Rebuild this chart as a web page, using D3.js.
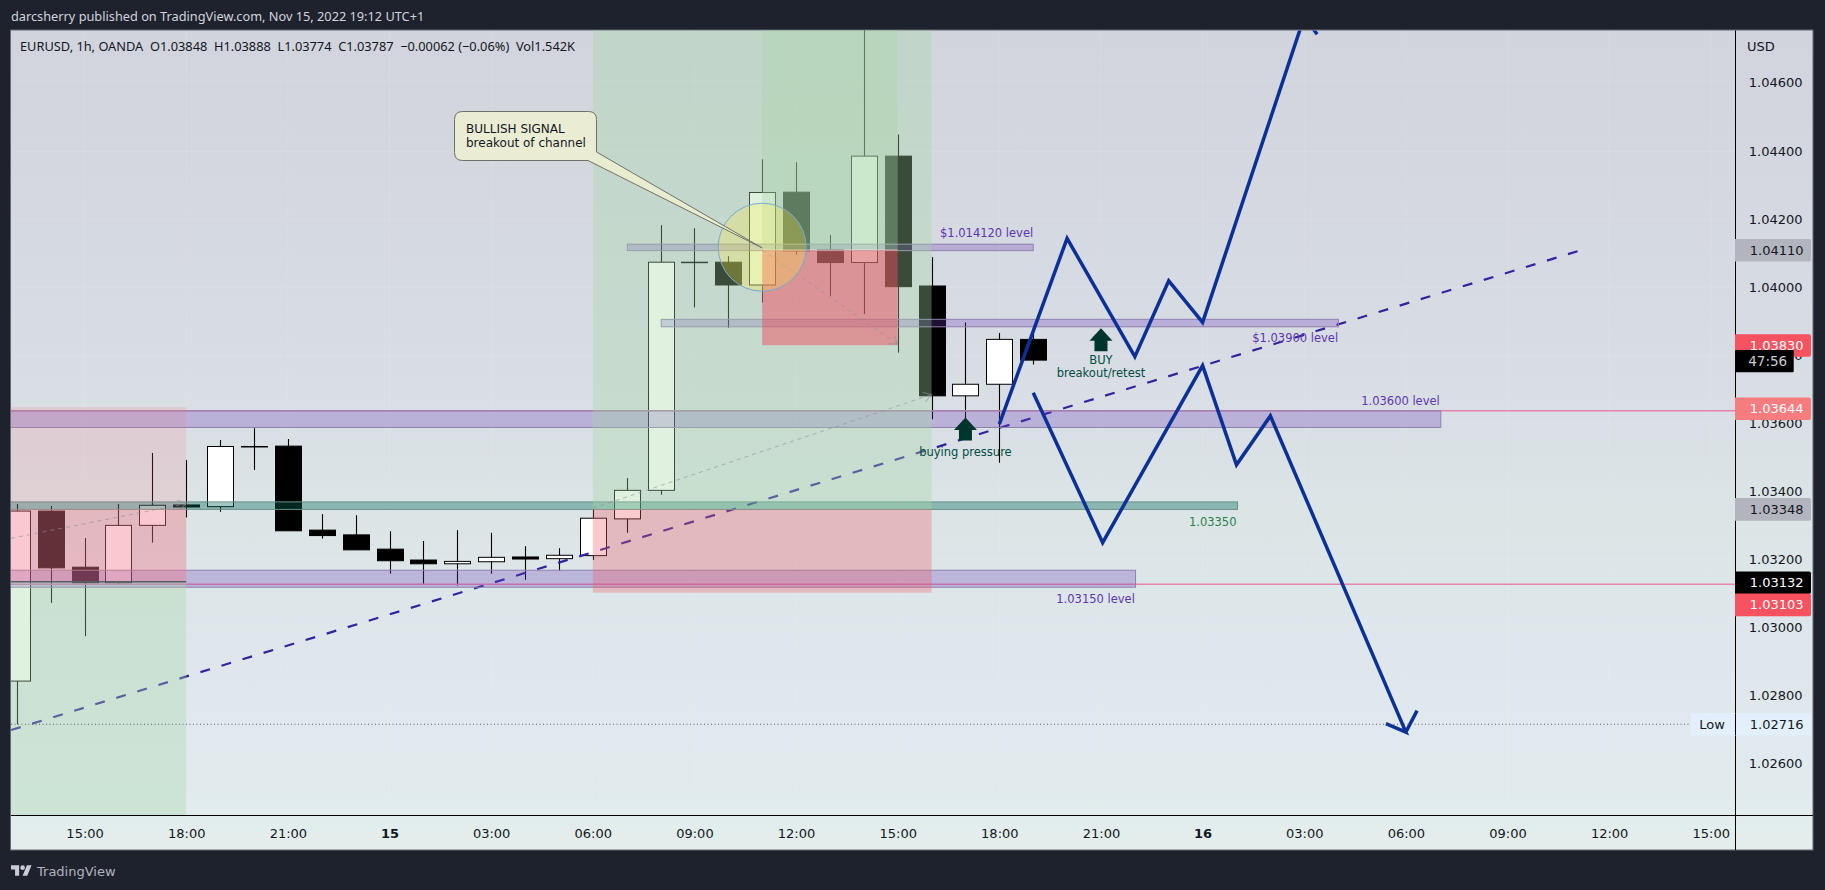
<!DOCTYPE html>
<html><head><meta charset="utf-8">
<script src="https://cdn.jsdelivr.net/npm/d3@7"></script>
<style>
html,body{margin:0;padding:0;background:#1e222d;overflow:hidden}
svg{display:block}
text{font-family:"DejaVu Sans",sans-serif}
</style></head><body><svg id="c" width="1825" height="890"></svg>
<script>
// ---- candle data (x = hours since Nov 14 00:00)
const hours =[13,14,15,16,17,18,19,20,21,22,23,24,25,26,27,28,29,30,31,32,33,34,35,36,37,38,39,40,41,42,43];
const opens =[1.02843,1.03343,1.03178,1.03132,1.03301,1.03361,1.03356,1.03533,1.03534,1.03287,1.03273,1.03231,1.03199,1.03188,1.03194,1.03208,1.03203,1.03212,1.0332,1.03404,1.04075,1.04075,1.04008,1.04281,1.04112,1.04074,1.04387,1.04005,1.03682,1.03716,1.03848];
const highs =[1.03364,1.03358,1.03264,1.03364,1.03514,1.03493,1.03552,1.03587,1.03555,1.03334,1.03331,1.03284,1.03255,1.03287,1.03279,1.0324,1.03234,1.03349,1.0344,1.04184,1.04175,1.04093,1.04378,1.04369,1.04155,1.048,1.04449,1.0409,1.03898,1.03867,1.03888];
const lows  =[1.02716,1.03073,1.02975,1.03128,1.0325,1.03324,1.03341,1.03464,1.03285,1.03262,1.03229,1.03159,1.03129,1.03124,1.03159,1.03141,1.03168,1.03199,1.03279,1.03391,1.03942,1.03882,1.03956,1.04097,1.03976,1.03923,1.03809,1.03613,1.0361,1.03485,1.03774];
const closes=[1.03343,1.03176,1.03132,1.03301,1.0336,1.03355,1.03533,1.03533,1.03285,1.03271,1.03229,1.03197,1.03188,1.03195,1.03207,1.03202,1.03213,1.03322,1.03404,1.04075,1.04075,1.04008,1.0428,1.04108,1.04074,1.04387,1.04003,1.03682,1.03716,1.03848,1.03787];

// ---- axes
const timeTickHours=[15,18,21,24,27,30,33,36,39,42,45,48,51,54,57,60,63];
const timeTickLabels=["15:00","18:00","21:00","15","03:00","06:00","09:00","12:00","15:00","18:00","21:00","16","03:00","06:00","09:00","12:00","15:00"];
const priceTicks=[1.026,1.028,1.03,1.032,1.034,1.036,1.038,1.04,1.042,1.044,1.046];

// ---- drawings: [h0,h1,pTop,pBottom]
const purpleBands=[[12,55.03,1.03638,1.03589],[12,46.02,1.03169,1.03119],[31.02,43,1.04128,1.04109],[32.02,52.01,1.03907,1.03885]];
const greenBands=[[12,49.03,1.0337,1.03348]];
const GREEN="rgba(165,214,167,.35)",SOFTRED="243,120,135",MIDRED="239,96,106",RED="240,74,92";
const posRects=[
 [12,18,1.03649,1.03135,`rgba(${SOFTRED},.18)`],
 [12,18,1.03349,1.03135,`rgba(${SOFTRED},.27)`],
 [12,18,1.03135,1.02,GREEN],
 [30,40,1.06,1.03684,GREEN],
 [30,40,1.03684,1.03348,GREEN],
 [30,40,1.03348,1.03103,`rgba(${MIDRED},.33)`],
 [35,39,1.06,1.04111,GREEN],
 [35,39,1.04111,1.03831,`rgba(${RED},.48)`]];
const hLines=[1.03638,1.03128];
const trendHours=[12.83,59.09], trendPrices=[1.02699,1.04108];
const upHours=[42,44,46,47,48,51,51.38], upPrices=[1.03599,1.04145,1.03797,1.0402,1.03898,1.04787,1.04737];
const downHours=[43,45.05,48,49,50,54,53.41,54,54.33], downPrices=[1.03691,1.0325,1.03771,1.03479,1.03623,1.02693,1.02718,1.02693,1.02756];
const guideLines=[[12.83,1.03263,18,1.03365],[30,1.03351,40,1.03686],[35,1.04111,39,1.03834]];
const levelLabels=[["1.03600 level",55,1.03668,"#5e35b1"],["1.03150 level",46,1.03084,"#5e35b1"],["1.03350",49,1.03312,"#2e7d4f"],["$1.014120 level",43,1.04161,"#5e35b1"],["$1.03900 level",52,1.03851,"#5e35b1"]];
const arrowHours=[41,45], arrowPrices=[1.03618,1.03881];
const noteTexts=["buying pressure","BUY","breakout/retest"], noteHours=[41,45,45], notePrices=[1.03516,1.03788,1.0375];
const priceLabels=[["1.04110",1.04110,"#b2b5be","#131722"],["1.03830",1.03830,"#f7525f","#fff"],["1.03644",1.03644,"#f77c80","#fff"],["1.03348",1.03348,"#b2b5be","#131722"],["1.03132",1.03132,"#000","#fff"],["1.03103",1.03067,"#f7525f","#fff"],["1.02716",1.02716,"#e3effd","#131722"]];
const lowPrice=1.02716;

const x=d3.scaleLinear().domain([15,63]).range([84.6,1710.8]);
const y=d3.scaleLinear().domain([1.026,1.044,1.046]).range([763.7,151.7,82]);
const L=11,R=1735,T=30.5,B=815,OR=1813,OB=850;

const svg=d3.select("#c");
const defs=svg.append("defs");
const g=defs.append("linearGradient").attr("id","bg").attr("x1",0).attr("x2",0).attr("y1",0).attr("y2",1);
[[0,"#d1d4dc"],[.3,"#d6dae2"],[.47,"#d9dfe5"],[.6,"#dbe5e6"],[.78,"#dfe7ed"],[.93,"#e1ebee"],[1,"#e3eeec"]].forEach(s=>g.append("stop").attr("offset",s[0]).attr("stop-color",s[1]));
defs.append("clipPath").attr("id","pane").append("rect").attr("x",L).attr("y",T).attr("width",R-L).attr("height",B-T);
defs.append("marker").attr("id","chev").attr("viewBox","-10 -6 11 12").attr("refX",0).attr("refY",0).attr("markerWidth",11).attr("markerHeight",12).attr("markerUnits","userSpaceOnUse").attr("orient","auto")
  .append("path").attr("d","M-8,-5L0,0L-8,5").attr("fill","none").attr("stroke","rgba(140,143,154,.65)");

svg.append("rect").attr("width",1825).attr("height",890).attr("fill","#1e222d");
svg.append("rect").attr("x",L-.5).attr("y",T-.5).attr("width",OR-L+.5).attr("height",OB-T+.5).attr("fill","url(#bg)").attr("stroke","#666a75");

// header
svg.append("text").attr("x",11).attr("y",21).attr("font-size",12.75).style("font-family","'Noto Sans'").attr("fill","#d1d4dc").text("darcsherry published on TradingView.com, Nov 15, 2022 19:12 UTC+1");

const pane=svg.append("g").attr("clip-path","url(#pane)");
// grid
pane.append("g").selectAll("line").data(timeTickHours).join("line").attr("x1",d=>x(d)).attr("x2",d=>x(d)).attr("y1",T).attr("y2",B).attr("stroke","rgba(255,255,255,.1)");
pane.append("g").selectAll("line").data(priceTicks).join("line").attr("x1",L).attr("x2",R).attr("y1",d=>y(d)).attr("y2",d=>y(d)).attr("stroke","rgba(255,255,255,.1)");

// candles
const bw=27;
const cg=pane.append("g");
hours.forEach((h,i)=>{
  const cx=Math.round(x(h))+.5,up=closes[i]>=opens[i];
  cg.append("line").attr("x1",cx).attr("x2",cx).attr("y1",y(highs[i])).attr("y2",y(lows[i])).attr("stroke","#000").attr("stroke-width",1.1);
  const t=y(Math.max(opens[i],closes[i])),b=y(Math.min(opens[i],closes[i]));
  cg.append("rect").attr("x",cx-bw/2+.5).attr("y",t).attr("width",bw-1).attr("height",Math.max(b-t,.5))
    .attr("fill",up?"#fff":"#000").attr("stroke","#000").attr("stroke-width",1);
});
// trendline
pane.append("path").attr("d",d3.line().x(d=>x(d)).y((d,i)=>y(trendPrices[i]))(trendHours)).attr("fill","none").attr("stroke","#3423a0").attr("stroke-width",2.2).attr("stroke-dasharray","10,12");
// pink lines
pane.append("g").selectAll("line").data(hLines).join("line").attr("x1",L).attr("x2",R).attr("y1",d=>y(d)).attr("y2",d=>y(d)).attr("stroke","#e585ad").attr("stroke-width",1.6);
// bands
function band(a,fill,stroke){pane.append("g").selectAll("rect").data(a).join("rect").attr("x",d=>x(d[0])).attr("width",d=>x(d[1])-x(d[0])).attr("y",d=>y(d[2])).attr("height",d=>y(d[3])-y(d[2])).attr("fill",fill).attr("stroke",stroke);}
band(purpleBands,"rgba(103,58,183,.28)","#8f80ad");
band(greenBands,"rgba(0,105,92,.37)","#6c9088");
// position rects
pane.append("g").selectAll("rect").data(posRects).join("rect").attr("x",d=>x(d[0])).attr("width",d=>x(d[1])-x(d[0])).attr("y",d=>y(d[2])).attr("height",d=>y(d[3])-y(d[2])).attr("fill",d=>d[4]);
pane.append("line").attr("x1",L).attr("x2",x(18)).attr("y1",y(1.03135)).attr("y2",y(1.03135)).attr("stroke","#5b5b60").attr("stroke-width",1.6);
pane.append("line").attr("x1",x(35)).attr("x2",x(39)).attr("y1",y(1.04111)).attr("y2",y(1.04111)).attr("stroke","rgba(255,255,255,.55)");
pane.append("g").selectAll("line").data(guideLines).join("line").attr("x1",d=>x(d[0])).attr("y1",d=>y(d[1])).attr("x2",d=>x(d[2])).attr("y2",d=>y(d[3])).attr("stroke","rgba(140,143,154,.6)").attr("stroke-dasharray","4,4").attr("marker-end","url(#chev)");
// circle
pane.append("circle").attr("cx",x(35)).attr("cy",y(1.04119)).attr("r",44).attr("fill","rgba(255,235,59,.27)").attr("stroke","#7aa9cf").attr("stroke-width",1);
// callout
const bx0=454.5,bx1=596.5,by0=111.5,by1=160.5,r=8,tx=x(35),ty=y(1.04117);
pane.append("path").attr("d",`M${bx0+r},${by0}H${bx1-r}Q${bx1},${by0} ${bx1},${by0+r}V152L${tx},${ty}L588,${by1}H${bx0+r}Q${bx0},${by1} ${bx0},${by1-r}V${by0+r}Q${bx0},${by0} ${bx0+r},${by0}Z`).attr("fill","rgba(240,240,210,.82)").attr("stroke","#6f7168").attr("stroke-width",1);
pane.append("text").attr("x",466).attr("y",133).attr("font-size",12).attr("fill","#131722").text("BULLISH SIGNAL");
pane.append("text").attr("x",466).attr("y",147).attr("font-size",12).attr("fill","#131722").text("breakout of channel");
// blue paths
const bl=d3.line().x(d=>x(d[0])).y(d=>y(d[1]));
[[upHours,upPrices],[downHours,downPrices]].forEach(([hs,ps])=>{
  pane.append("path").attr("d",bl(hs.map((h,i)=>[h,ps[i]]))).attr("fill","none").attr("stroke","#0c3096").attr("stroke-width",3.5).attr("stroke-linejoin","miter");
});
// arrows & notes
arrowHours.forEach((h,i)=>{
  pane.append("path").attr("d",`M${x(h)},${y(arrowPrices[i])}l11.5,12.5h-5v10.5h-13v-10.5h-5z`).attr("fill","#00352d");
});
noteTexts.forEach((t,i)=>{pane.append("text").attr("x",x(noteHours[i])).attr("y",y(notePrices[i])).attr("dy",".35em").attr("text-anchor","middle").attr("font-size",11.5).attr("fill","#004d40").text(t);});
levelLabels.forEach(([t,h,p,c])=>{pane.append("text").attr("x",x(h)).attr("y",y(p)).attr("dy",".35em").attr("text-anchor","end").attr("font-size",11.5).attr("fill",c).text(t);});
// low dotted
pane.append("line").attr("x1",L).attr("x2",1690).attr("y1",y(lowPrice)).attr("y2",y(lowPrice)).attr("stroke","#5b6068").attr("stroke-dasharray","1,2.5");

// legend
svg.append("text").attr("x",20).attr("y",51).attr("font-size",12.8).style("font-family","'Noto Sans'").style("white-space","pre").attr("fill","#131722").text("EURUSD, 1h, OANDA  O1.03848  H1.03888  L1.03774  C1.03787  \u22120.00062 (\u22120.06%)  Vol1.542K");

// axis lines
svg.append("line").attr("x1",R+.5).attr("x2",R+.5).attr("y1",T).attr("y2",OB).attr("stroke","#000");
svg.append("line").attr("x1",L).attr("x2",OR).attr("y1",B+.5).attr("y2",B+.5).attr("stroke","#000");
// d3 axes
const ax=svg.append("g").attr("transform",`translate(0,${B})`).call(d3.axisBottom(x).tickValues(timeTickHours).tickSize(0).tickFormat((d,i)=>timeTickLabels[i]));
ax.select(".domain").remove();
ax.selectAll("text").attr("y",18).attr("dy",".35em").attr("font-size",13).attr("font-family","DejaVu Sans").attr("fill","#131722").attr("font-weight",(d,i)=>timeTickLabels[i].length<3?700:400);
const ay=svg.append("g").attr("transform",`translate(${R},0)`).call(d3.axisRight(y).tickValues(priceTicks).tickSize(0).tickFormat(d3.format(".5f")));
ay.select(".domain").remove();
ay.selectAll("text").attr("x",67.5).attr("text-anchor","end").attr("font-size",13).attr("font-family","DejaVu Sans").attr("fill","#131722");
svg.append("text").attr("x",1747).attr("y",50.5).attr("font-size",13).attr("fill","#131722").text("USD");
// price labels
priceLabels.forEach(([t,p,bg,fg])=>{
  const cy=y(p);
  svg.append("path").attr("d",`M${R},${cy-11.3}h74q2,0 2,2v18.6q0,2 -2,2h-74z`).attr("fill",bg);
  svg.append("text").attr("x",1803.5).attr("y",cy).attr("dy",".35em").attr("text-anchor","end").attr("font-size",13).attr("fill",fg).text(t);
});
svg.append("rect").attr("x",R).attr("y",350).attr("width",58.7).attr("height",22.3).attr("rx",1).attr("fill","#000");
svg.append("text").attr("x",1767.7).attr("y",361).attr("dy",".35em").attr("text-anchor","middle").attr("font-size",13.5).attr("fill","#c9cbd1").text("47:56");
svg.append("rect").attr("x",1691).attr("y",y(lowPrice)-11.3).attr("width",43.5).attr("height",22.6).attr("fill","#e3effd");
svg.append("text").attr("x",1712).attr("y",y(lowPrice)).attr("dy",".35em").attr("text-anchor","middle").attr("font-size",13).attr("fill","#131722").text("Low");
svg.append("line").attr("x1",R+.5).attr("x2",R+.5).attr("y1",y(lowPrice)-11).attr("y2",y(lowPrice)+11).attr("stroke","#000");

// footer logo
const logo=svg.append("g").attr("transform","translate(11,863) scale(.58)").attr("fill","#c9ccd4");
logo.append("path").attr("d","M14 22H7V11H0V4h14v18zM28 22h-8l7.5-18h8L28 22z");
logo.append("circle").attr("cx",20).attr("cy",8).attr("r",4);
svg.append("text").attr("x",37).attr("y",876).attr("font-size",13).attr("fill","#b2b5be").text("TradingView");
</script></body></html>
